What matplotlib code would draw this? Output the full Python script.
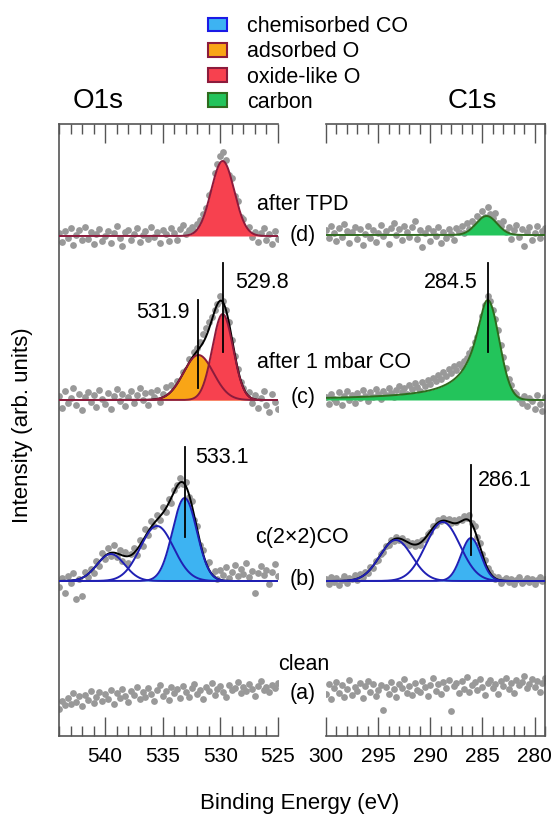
import numpy as np
import matplotlib.pyplot as plt
from matplotlib.patches import Patch
from matplotlib.ticker import MultipleLocator

plt.rcParams['font.family'] = ['Liberation Sans', 'DejaVu Sans']

# ---- measured spectra (intensity above each trace's own baseline, arb. units) ----
# O1s: 544 eV -> 525 eV in 0.25 eV steps
o1s_start, o1s_step = 544.0, 0.25
o1s_a = [-14, -6, -10, -3, -9, 2, -7, -1, -11, 0, -5, 4, -8, -2, 3, -6, 1, -4, 5, -9,
         2, -3, 6, -1, -7, 4, 0, 8, -4, 3, -2, 7, 1, -6, 5, 10, -1, 4, -5, 8,
         2, 6, -3, 9, 3, -2, 7, 11, 1, 5, -4, 8, 4, 12, 0, 6, 9, 3, -2, 10,
         5, 7, 13, 2, 8, 4, 11, 6, -1, 9, 14, 5, 8, 3, 10, 7, 12]
o1s_b = [-6, 3, -12, 5, -2, 8, -18, 2, -15, 9, 4, 12, 8, 20, 15, 28, 22, 33, 25, 36,
         24, 31, 20, 29, 18, 27, 33, 26, 41, 35, 52, 46, 60, 55, 66, 61, 74, 69, 82, 78,
         91, 96, 103, 97, 99, 84, 80, 61, 55, 36, 31, 16, 19, 5, 10, 2, 11, 6, 14, 3,
         9, 16, 5, 12, 7, 18, 4, 10, -12, 8, 15, 6, 11, -3, 9, 17, 5]
o1s_c = [4, -8, 9, -3, 2, 12, -5, 6, -10, 3, 8, -2, 5, -7, 10, 1, -4, 7, -9, 4,
         11, -1, 6, -6, 3, 9, -3, 5, 12, 0, 7, -5, 8, 3, 10, -2, 6, 13, 4, 15,
         10, 19, 17, 28, 30, 41, 37, 48, 52, 58, 66, 72, 78, 83, 90, 96, 104, 99, 90, 78,
         60, 44, 31, 18, 12, 4, 8, -3, 5, -8, 2, 9, -5, -12, 6, -2, -9]
o1s_d = [3, -6, 5, -2, 8, -9, 1, 6, -4, 9, -3, 4, -8, 2, 7, -5, 0, 5, -7, 3,
         10, -2, -10, 4, 6, -4, 2, 8, -6, 1, 5, -3, 9, -1, 4, -7, 6, 2, -5, 8,
         3, -4, 7, 11, 2, 6, 9, 5, 12, 16, 22, 28, 41, 44, 63, 72, 80, 84, 76, 61,
         58, 40, 35, 19, 17, 7, 9, -1, 4, -6, 3, 8, -4, 2, -8, 5, -3]

# C1s: 300 eV -> 279 eV in 0.25 eV steps
c1s_start, c1s_step = 300.0, 0.25
c1s_a = [-4, 6, -9, 2, 8, -3, 5, -7, 1, 10, -5, 3, -1, 7, -8, 4, 9, -2, 6, -6,
         0, 5, -20, 3, -4, 8, 1, -7, 6, 2, 11, -3, 4, -5, 7, 0, -2, 9, 3, -6,
         5, 12, -1, 6, -4, 8, 2, 10, -21, 4, 7, -3, 9, 1, 13, -2, 5, 8, 0, 11,
         3, -5, 7, 10, 2, 6, -4, 9, 4, 12, 1, 7, -3, 10, 5, 8, 14, 2, 6, 11,
         3, 9, -2, 7, 12]
c1s_b = [2, -3, 4, -1, 3, -4, 1, 5, -2, 3, 2, 6, 1, 7, 4, 9, 8, 14, 13, 20,
         21, 27, 29, 35, 36, 41, 40, 44, 41, 43, 39, 40, 36, 38, 35, 39, 36, 41, 42, 47,
         49, 55, 56, 61, 60, 63, 61, 62, 58, 61, 59, 62, 61, 65, 63, 66, 58, 55, 44, 38,
         27, 21, 13, 9, 5, 2, 4, -2, 1, 3, -1, 2, -3, 1, 4, -2, 0, 3, -1, 2,
         -3, 1, 4, 0, 2]
c1s_c = [3, -4, 6, 1, -2, 8, -5, 4, 9, 0, 5, -3, 7, 2, 10, 4, -1, 8, 3, 11,
         6, 1, 9, 5, 12, 7, 3, 10, 14, 8, 12, 6, 15, 11, 17, 13, 9, 18, 14, 20,
         16, 22, 19, 25, 21, 28, 24, 31, 27, 34, 30, 36, 33, 39, 42, 47, 51, 58, 63, 72,
         84, 95, 104, 99, 90, 81, 70, 55, 43, 32, 21, 15, 8, 6, 1, -3, 4, -6, 2, -1,
         -9, 5, -4, -11, 3]
c1s_d = [5, -3, 9, 2, -6, 7, -2, 11, 4, -8, 3, 8, -4, 6, -10, 1, 9, -3, 5, -7,
         2, 10, -1, 4, -9, 7, 12, 0, 6, -5, 9, 3, -2, 8, 14, -4, 5, -12, 2, 7,
         -6, 4, -1, 8, -8, 3, -3, 6, 1, -5, 7, 3, 9, 2, 12, 6, 14, 11, 19, 16,
         24, 18, 28, 21, 17, 22, 12, 9, 14, 3, 8, -4, 5, 10, -2, 6, -11, 3, 8, -5,
         2, 9, -3, 4, 7]

# ---- fitted components: (position eV, height, width eV) ----
o1s_d_oxide = (529.8, 75, 1.0)
o1s_c_adsorbed = (531.9, 45, 1.3)
o1s_c_oxide = (529.8, 86, 0.9)
o1s_b_co = [(533.1, 83, 1.05), (535.5, 55, 1.45), (539.5, 27, 1.2)]
c1s_d_carbon = (284.6, 19, 1.0)
c1s_c_carbon = (284.5, 100, 1.1)      # asymmetric: tail towards high BE
c1s_c_tail = (1.2, 0.75)
c1s_b_co = [(286.1, 43, 0.95), (288.8, 59, 1.65), (293.3, 41, 1.55)]

# peak markers (eV) and their labels
o1s_marks = [529.8, 531.9, 533.1]
c1s_marks = [284.5, 286.1]

legend_labels = ['chemisorbed CO', 'adsorbed O', 'oxide-like O', 'carbon']
trace_labels = ['(a)', '(b)', '(c)', '(d)']
trace_names = ['clean', 'c(2\u00d72)CO', 'after 1 mbar CO', 'after TPD']

# colours
co_fill, co_edge, co_line = '#3db3f2', '#1a1ae6', '#2020b4'
ads_fill, ox_fill, o_edge = '#f9a516', '#f7414f', '#8c1b3c'
c_fill, c_edge = '#23c45b', '#2f6b1e'
dot_col = '#999999'


def gauss(e, p):
    pos, h, s = p
    return h * np.exp(-(e - pos) ** 2 / (2 * s ** 2))


def asym(e, p, tail):
    pos, h, s = p
    w, pw = tail
    left = h * (1 + ((e - pos) / w) ** 2) ** (-pw)
    return np.where(e >= pos, left, gauss(e, p))


W, H = 554, 827
fig = plt.figure(figsize=(W / 100, H / 100), dpi=100)


def fx(x):
    return x / W


def fy(y):
    return 1 - y / H


ax_o = fig.add_axes([fx(59), fy(736), 219 / W, 612 / H])
ax_c = fig.add_axes([fx(326), fy(736), 219 / W, 612 / H])

for ax, lim in ((ax_o, (544, 525)), (ax_c, (300, 279))):
    ax.set_xlim(*lim)
    ax.set_ylim(0, 612)
    ax.xaxis.set_major_locator(MultipleLocator(5))
    ax.xaxis.set_minor_locator(MultipleLocator(1))
    ax.tick_params(axis='x', which='both', direction='in', top=True, bottom=True,
                   color='#555555', labelsize=15, pad=8)
    ax.tick_params(axis='x', which='major', length=14, width=1)
    ax.tick_params(axis='x', which='minor', length=7, width=1)
    ax.set_yticks([])
    for sp in ax.spines.values():
        sp.set_color('#555555')
        sp.set_linewidth(1.2)
ax_o.spines['right'].set_visible(False)
ax_c.spines['left'].set_visible(False)

o1s_off = [41, 155, 336, 500]
c1s_off = [46, 155, 336, 501]

eo = np.linspace(544, 525, 600)
ec = np.linspace(300, 279, 600)

# data dots
for vals, off in zip([o1s_a, o1s_b, o1s_c, o1s_d], o1s_off):
    e = o1s_start - o1s_step * np.arange(len(vals))
    ax_o.scatter(e, off + np.array(vals), s=24, color=dot_col, lw=0, zorder=1)
for vals, off in zip([c1s_a, c1s_b, c1s_c, c1s_d], c1s_off):
    e = c1s_start - c1s_step * np.arange(len(vals))
    ax_c.scatter(e, off + np.array(vals), s=24, color=dot_col, lw=0, zorder=1)


def component(ax, e, y, off, fill, edge):
    if fill is not None:
        ax.fill_between(e, off, off + y, color=fill, lw=0, zorder=2)
    ax.plot(e, off + y, color=edge, lw=1.4, zorder=4)


# O1s (d)
component(ax_o, eo, gauss(eo, o1s_d_oxide), o1s_off[3], ox_fill, o_edge)
# O1s (c)
ya = gauss(eo, o1s_c_adsorbed)
yo = gauss(eo, o1s_c_oxide)
ax_o.plot(eo, o1s_off[2] + ya + yo, color='black', lw=1.4, zorder=3)
component(ax_o, eo, ya, o1s_off[2], ads_fill, o_edge)
component(ax_o, eo, yo, o1s_off[2], ox_fill, o_edge)
# O1s (b)
comps = [gauss(eo, p) for p in o1s_b_co]
ax_o.plot(eo, o1s_off[1] + sum(comps), color='black', lw=1.4, zorder=3)
for i, y in enumerate(comps):
    component(ax_o, eo, y, o1s_off[1], co_fill if i == 0 else None, co_line)

# C1s (d)
component(ax_c, ec, gauss(ec, c1s_d_carbon), c1s_off[3], c_fill, c_edge)
# C1s (c)
component(ax_c, ec, asym(ec, c1s_c_carbon, c1s_c_tail), c1s_off[2], c_fill, c_edge)
# C1s (b)
comps = [gauss(ec, p) for p in c1s_b_co]
ax_c.plot(ec, c1s_off[1] + sum(comps), color='black', lw=1.4, zorder=3)
for i, y in enumerate(comps):
    component(ax_c, ec, y, c1s_off[1], co_fill if i == 0 else None, co_line)

# peak markers
mark_kw = dict(color='black', lw=1.3, zorder=5)
ax_o.plot([o1s_marks[0]] * 2, [384, 473], **mark_kw)
ax_o.plot([o1s_marks[1]] * 2, [348, 436], **mark_kw)
ax_o.plot([o1s_marks[2]] * 2, [199, 289], **mark_kw)
ax_c.plot([c1s_marks[0]] * 2, [384, 473], **mark_kw)
ax_c.plot([c1s_marks[1]] * 2, [181, 271], **mark_kw)

fs = 15.5
fig.text(fx(235), fy(283), f'{o1s_marks[0]:.1f}', fontsize=fs, ha='left', va='center')
fig.text(fx(190), fy(313), f'{o1s_marks[1]:.1f}', fontsize=fs, ha='right', va='center')
fig.text(fx(195), fy(458), f'{o1s_marks[2]:.1f}', fontsize=fs, ha='left', va='center')
fig.text(fx(478), fy(283), f'{c1s_marks[0]:.1f}', fontsize=fs, ha='right', va='center')
fig.text(fx(478), fy(480), f'{c1s_marks[1]:.1f}', fontsize=fs, ha='left', va='center')

# trace labels in the gap
for lab, y in zip(trace_labels, [693, 580, 398, 236]):
    fig.text(fx(303), fy(y), lab, fontsize=fs, ha='center', va='center')
for name, (x, y) in zip(trace_names, [(278, 665), (255, 537), (257, 363), (257, 205)]):
    fig.text(fx(x), fy(y), name, fontsize=fs, ha='left', va='center')

fig.text(fx(98), fy(101), 'O1s', fontsize=20, ha='center', va='center')
fig.text(fx(472), fy(101), 'C1s', fontsize=20, ha='center', va='center')
fig.text(fx(23), fy(425), 'Intensity (arb. units)', fontsize=16, rotation=90,
         ha='center', va='center')
fig.text(fx(300), fy(803), 'Binding Energy (eV)', fontsize=16, ha='center', va='center')

handles = [Patch(facecolor=co_fill, edgecolor=co_edge, lw=1.5),
           Patch(facecolor=ads_fill, edgecolor=o_edge, lw=1.5),
           Patch(facecolor=ox_fill, edgecolor=o_edge, lw=1.5),
           Patch(facecolor=c_fill, edgecolor=c_edge, lw=1.5)]
fig.legend(handles, legend_labels, loc='upper left', bbox_to_anchor=(fx(208), fy(16)),
           frameon=False, fontsize=fs, borderpad=0, borderaxespad=0,
           handlelength=0.9, handleheight=0.6, handletextpad=0.9, labelspacing=0.2)

fig.savefig('out.png', dpi=100)
